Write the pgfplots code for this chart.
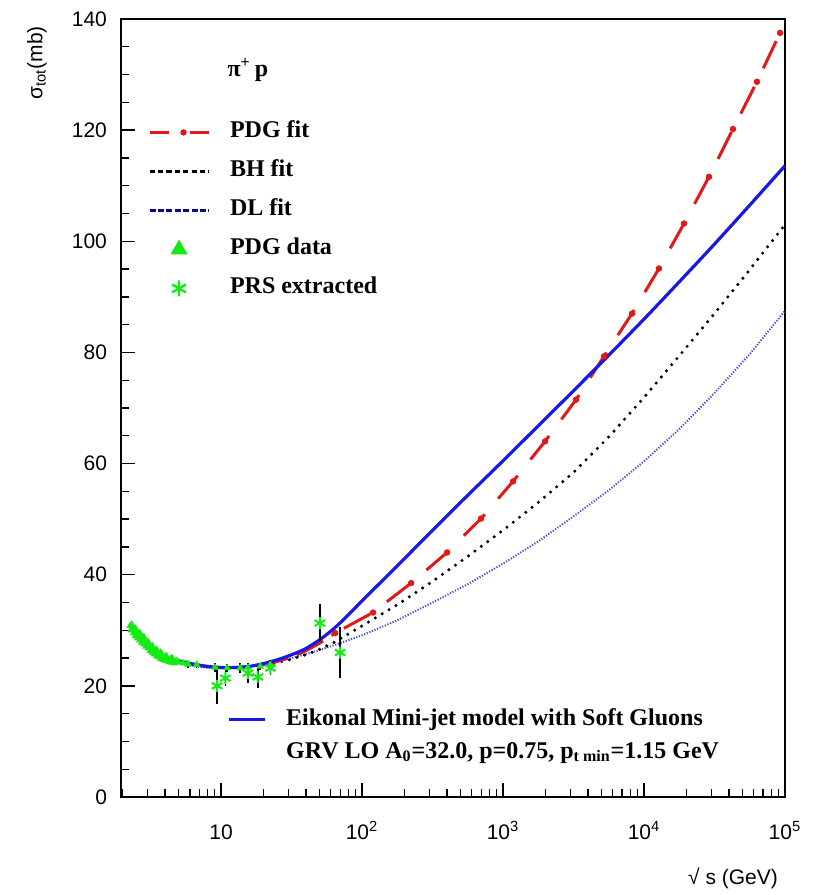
\documentclass[border=0pt]{standalone}
\usepackage{pgfplots}
\pgfplotsset{compat=1.18}
\usepackage{fontspec}
\setmainfont{Liberation Sans}
\newfontfamily\tnr{Liberation Serif}
\definecolor{pdgred}{RGB}{225,25,25}
\definecolor{eikblue}{RGB}{25,25,230}
\definecolor{dlblue}{RGB}{75,75,215}
\definecolor{dlnavy}{RGB}{10,10,140}
\definecolor{dgreen}{RGB}{20,235,20}
\begin{document}
\begin{tikzpicture}
\begin{axis}[name=ax, scale only axis, width=332pt, height=389pt,
  xmode=log, xmin=1.95, xmax=1e5, ymin=0, ymax=140,
  axis line style={line width=0.8pt},
  tick align=inside, xtick pos=bottom, ytick pos=left,
  major tick length=7pt, minor tick length=4pt,
  tick style={black, line width=0.7pt},
  xtick={10,100,1000,10000,100000},
  xticklabels={10, 10\textsuperscript{2}, 10\textsuperscript{3}, 10\textsuperscript{4}, 10\textsuperscript{5}},
  minor xtick={2,3,4,5,6,7,8,9,20,30,40,50,60,70,80,90,200,300,400,500,600,700,800,900,2000,3000,4000,5000,6000,7000,8000,9000,20000,30000,40000,50000,60000,70000,80000,90000},
  ytick={0,20,...,140}, minor y tick num=3,
  /pgf/number format/assume math mode=true,
  tick label style={font=\fontsize{10.5}{12}\selectfont},
  xticklabel style={text height=7.5pt, yshift=-10pt},
  yticklabel style={xshift=-3.5pt},
  ylabel={σ\textsubscript{tot}(mb)},
  ylabel style={at={(axis description cs:-0.1265,1)}, anchor=east, font=\fontsize{10.5}{12}\selectfont},
  xlabel={√ s (GeV)},
  xlabel style={at={(axis description cs:1,0)}, anchor=east, yshift=-40.5pt, font=\fontsize{10.5}{12}\selectfont},
  legend cell align=left,
  legend style={at={(rel axis cs:0.0407,0.869)}, anchor=north west, draw=none, fill=none,
    inner sep=0pt, outer sep=0pt, row sep=8pt, column sep=10pt,
    font=\tnr\bfseries\fontsize{12}{14}\selectfont,
    nodes={inner sep=0pt, text height=8.5pt, text depth=3pt}},
]
\addlegendimage{legend image code/.code={
  \draw[pdgred, line width=1.5pt] (0pt,0pt) -- (9.5pt,0pt);
  \fill[pdgred] (17pt,0pt) circle (1.4pt);
  \draw[pdgred, line width=1.5pt] (20pt,0pt) -- (29.5pt,0pt);}}
\addlegendentry{PDG fit}
\addlegendimage{legend image code/.code={\draw[black, line width=1.5pt, dash pattern=on 2.6pt off 1.6pt] (0pt,0pt) -- (29.5pt,0pt);}}
\addlegendentry{BH fit}
\addlegendimage{legend image code/.code={\draw[dlnavy, line width=1.5pt, dash pattern=on 3pt off 1.2pt] (0pt,0pt) -- (29.5pt,0pt);}}
\addlegendentry{DL fit}
\addlegendimage{legend image code/.code={\draw[dgreen, fill=dgreen] plot[only marks, mark=triangle*, mark size=4.5pt] coordinates {(14.75pt,0pt)};}}
\addlegendentry{PDG data}
\addlegendimage{legend image code/.code={\draw[dgreen, line width=1.2pt] plot[only marks, mark=asterisk, mark size=4pt] coordinates {(14.75pt,0pt)};}}
\addlegendentry{PRS extracted}

% DL fit
\addplot[forget plot, dlblue, line width=1pt, dash pattern=on 0.6pt off 0.8pt] coordinates {
(5.012,24.1)(6.310,23.55)(7.943,23.26)(10,23.2)(12.59,23.29)(15.85,23.54)(19.95,23.93)(25.12,24.42)(31.62,25.0)(39.81,25.7)(50.12,26.45)(63.10,27.3)(79.43,28.2)(100,29.1)(177.8,31.8)(316.2,35.0)(562.3,38.3)(1000,42.0)(1778,46.0)(3162,50.5)(5623,55.2)(10000,60.4)(17783,66.2)(31623,72.7)(56234,79.7)(100000,87.5)};
% BH fit
\addplot[forget plot, black, line width=1.7pt, line cap=round, dash pattern=on 0pt off 4pt] coordinates {
(5.012,24.6)(6.310,23.9)(7.943,23.5)(10,23.3)(12.59,23.3)(15.85,23.4)(19.95,23.7)(25.12,24.2)(31.62,24.8)(39.81,25.6)(50.12,26.6)(63.10,27.8)(79.43,29.3)(100,30.8)(177.8,34.6)(316.2,38.8)(562.3,43.3)(1000,48.0)(1778,53.0)(3162,58.4)(5623,64.8)(10000,71.9)(17783,79.4)(31623,87.0)(56234,94.9)(100000,103.0)};
% PDG fit
\addplot[forget plot, pdgred, line width=1.5pt, dash pattern=on 15pt off 5pt] coordinates {
(5.012,24.5)(6.310,23.9)(7.943,23.5)(10,23.3)(12.59,23.3)(15.85,23.4)(19.95,23.8)(25.12,24.4)(31.62,25.2)(39.81,26.3)(50.12,27.7)(64.42,29.5)};
\addplot[forget plot, pdgred, line width=1.5pt, dash pattern=on 0pt off 5pt on 15pt off 5.35pt] coordinates {
(64.42,29.5)(119.7,33.2)(222.8,38.5)(400.9,44.0)(698.2,50.1)(1178,56.8)(1986,64.0)(3296,71.5)(5200,79.3)(8222,87.0)(12764,95.1)(19231,103.2)(28907,111.6)(42756,120.2)(63241,128.7)(92257,137.5)(100000,139.0)};
\addplot[forget plot, only marks, mark=*, mark size=1.4pt, pdgred] coordinates {
(64.42,29.5)(119.7,33.2)(222.8,38.5)(400.9,44.0)(698.2,50.1)(1178,56.8)(1986,64.0)(3296,71.5)(5200,79.3)(8222,87.0)(12764,95.1)(19231,103.2)(28907,111.6)(42756,120.2)(63241,128.7)(92257,137.5)};
% Eikonal
\addplot[forget plot, eikblue, line width=1.6pt, smooth, tension=0.5] coordinates {
(5.012,24.5)(6.310,23.9)(7.943,23.5)(10,23.3)(12.59,23.3)(15.85,23.5)(19.95,24.0)(25.12,24.7)(31.62,25.6)(39.81,26.7)(50.12,28.3)(63.10,30.3)(79.43,32.7)(100,35.3)(177.8,41.6)(316.2,48.0)(562.3,54.3)(1000,60.5)(1778,66.8)(3162,73.1)(5623,79.5)(10000,86.0)(17783,92.7)(31623,99.5)(56234,106.5)(100000,113.6)};
% PDG data
\addplot[forget plot, only marks, mark=triangle*, mark size=1.8pt, dgreen] coordinates {
(2.265,30.8)(2.344,30.4)(2.427,30.0)(2.512,29.6)(2.600,29.2)(2.692,28.8)(2.786,28.4)(2.884,28.0)(2.985,27.6)(3.090,27.2)(3.199,26.8)(3.311,26.5)(3.428,26.2)(3.548,25.9)(3.673,25.6)(3.802,25.4)(3.981,25.1)(4.169,24.9)(4.365,24.8)(4.571,24.6)(4.786,24.5)(5.012,24.3)(5.370,24.1)(5.754,23.9)
(2.30,30.0)(2.39,29.5)(2.47,29.0)(2.56,28.6)(2.65,28.2)(2.74,27.8)(2.83,27.5)(2.93,27.1)(3.04,26.8)(3.15,26.3)(3.26,26.0)(3.37,25.7)(3.49,25.4)(3.61,25.2)(3.74,24.9)(3.89,24.7)(4.07,24.5)(4.27,24.3)(4.47,24.2)(4.68,24.1)
(2.33,31.0)(2.47,30.3)(2.65,29.5)(2.83,28.8)(3.04,27.9)(3.26,27.1)(3.49,26.5)(3.74,26.0)(4.07,25.4)(4.47,25.0)};
\addplot[forget plot, only marks, mark=triangle*, mark size=1.8pt, dgreen,
  error bars/.cd, y dir=both, y explicit, error mark=none, error bar style={black, line width=0.8pt}] coordinates {
(5.834,23.9) +- (0,0.6)
(6.70,23.8) +- (0,0.6)
(9.057,23.3) +- (0,0.8)
(11.04,23.2) +- (0,0.7)
(13.65,23.2) +- (0,0.9)
(15.49,23.3) +- (0,0.8)
(18.92,23.5) +- (0,0.7)
(22.28,23.8) +- (0,0.8)};
% PRS extracted
\addplot[forget plot, only marks, mark=asterisk, mark size=3pt, dgreen, line width=1pt,
  error bars/.cd, y dir=both, y explicit, error mark=none, error bar style={black, line width=0.8pt}] coordinates {
(9.376,20.0) +- (0,3.2)
(10.72,21.4) +- (0,1.5)
(15.49,22.3) +- (0,1.8)
(18.20,21.6) +- (0,2.0)
(22.39,23.2) +- (0,1.2)
(50.12,31.3) +- (0,3.4)
(69.82,26.0) +- (0,4.6)};
\node[font=\tnr\bfseries\fontsize{12}{14}\selectfont] at (rel axis cs:0.191,0.934) {π\textsuperscript{+}\,p};
\end{axis}
\begin{axis}[at={(ax.south west)}, anchor=south west, scale only axis, width=332pt, height=389pt,
  hide axis, xmin=0, xmax=1, ymin=0, ymax=1,
  legend cell align=left,
  legend style={at={(rel axis cs:0.1596,0.1144)}, anchor=north west, draw=none, fill=none,
    inner sep=0pt, outer sep=0pt, row sep=5pt, column sep=10pt,
    font=\tnr\bfseries\fontsize{12}{14}\selectfont,
    nodes={inner sep=0pt, text height=8.5pt, text depth=3pt}},
]
\addlegendimage{legend image code/.code={\draw[eikblue, line width=1.6pt] (0pt,0pt) -- (18pt,0pt);}}
\addlegendentry{Eikonal Mini-jet model with Soft Gluons}
\addlegendimage{empty legend}
\addlegendentry{GRV LO A\textsubscript{0}=32.0, p=0.75, p\textsubscript{t min}=1.15 GeV}
\end{axis}
\pgfresetboundingbox
\path (ax.south west) ++(-60.5pt,-49pt) rectangle ++(407.5pt,447.5pt);
\end{tikzpicture}
\end{document}
